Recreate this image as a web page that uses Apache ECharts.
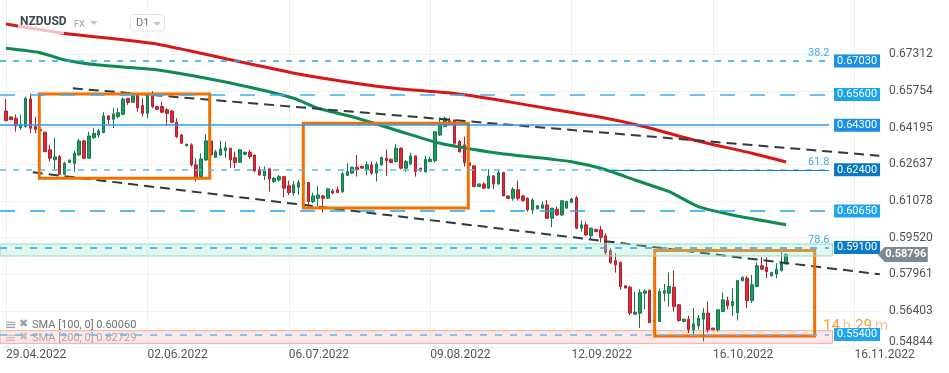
<!DOCTYPE html>
<html><head><meta charset="utf-8">
<script src="https://cdn.jsdelivr.net/npm/echarts@6/dist/echarts.min.js"></script>
<style>html,body{margin:0;padding:0;background:#fff}#c{width:949px;height:373px}</style>
</head><body><div id="c"></div><script>
// ---- candle data (daily bars, index 0 = 29.04.2022) ----
const opens = [.6490,.6465,.6459,.6419,.6424,.6541,.6424,.6412,.6400,.6325,.6283,.6296,.6221,.6271,.6268,.6303,.6363,.6289,.6377,.6388,
.6398,.6469,.6455,.6466,.6476,.6544,.6527,.6558,.6513,.6480,.6565,.6509,.6509,.6495,.6490,.6442,.6388,.6342,.6346,.6261,
.6211,.6282,.6363,.6293,.6303,.6322,.6332,.6292,.6272,.6306,.6315,.6303,.6240,.6215,.6244,.6190,.6197,.6211,.6172,.6141,
.6166,.6180,.6186,.6105,.6119,.6129,.6119,.6150,.6155,.6147,.6217,.6226,.6251,.6255,.6240,.6261,.6226,.6261,.6289,.6285,
.6275,.6332,.6247,.6265,.6299,.6247,.6232,.6275,.6279,.6388,.6424,.6448,.6452,.6360,.6346,.6271,.6257,.6169,.6180,.6162,
.6214,.6180,.6228,.6129,.6119,.6155,.6129,.6119,.6070,.6074,.6077,.6091,.6034,.6072,.6048,.6077,.6101,.6121,.5992,.6006,
.5959,.5987,.5985,.5959,.5897,.5854,.5846,.5747,.5741,.5626,.5630,.5715,.5727,.5602,.5595,.5715,.5715,.5741,.5666,.5595,
.5605,.5560,.5577,.5605,.5631,.5567,.5560,.5637,.5684,.5662,.5633,.5769,.5779,.5684,.5744,.5832,.5826,.5789,.5797,.5812,.5840];
const closes = [.6449,.6453,.6427,.6434,.6544,.6417,.6412,.6405,.6317,.6289,.6295,.6221,.6268,.6281,.6311,.6363,.6289,.6384,.6395,.6405,
.6469,.6453,.6478,.6483,.6541,.6526,.6558,.6504,.6480,.6558,.6509,.6497,.6485,.6480,.6442,.6381,.6353,.6349,.6261,.6211,
.6286,.6363,.6303,.6317,.6329,.6334,.6282,.6271,.6325,.6315,.6296,.6235,.6218,.6235,.6201,.6204,.6211,.6162,.6143,.6176,
.6186,.6190,.6105,.6129,.6133,.6119,.6159,.6141,.6143,.6223,.6232,.6251,.6240,.6247,.6261,.6226,.6264,.6292,.6279,.6271,
.6332,.6247,.6275,.6299,.6232,.6235,.6285,.6285,.6402,.6431,.6459,.6439,.6353,.6317,.6271,.6257,.6169,.6180,.6162,.6214,
.6180,.6228,.6129,.6118,.6157,.6119,.6109,.6070,.6112,.6087,.6091,.6034,.6077,.6048,.6108,.6105,.6116,.5992,.6006,.5963,
.5992,.5977,.5953,.5888,.5846,.5836,.5744,.5737,.5631,.5635,.5718,.5725,.5590,.5590,.5722,.5726,.5744,.5659,.5599,.5605,
.5560,.5585,.5609,.5631,.5560,.5560,.5645,.5687,.5662,.5680,.5769,.5783,.5684,.5751,.5832,.5817,.5807,.5803,.5817,.5843,.58796];
const lows = [.6448,.6452,.6402,.6410,.6419,.6396,.6396,.6388,.6316,.6275,.6240,.6218,.6218,.6269,.6232,.6300,.6289,.6289,.6371,.6377,
.6396,.6434,.6417,.6459,.6473,.6516,.6527,.6487,.6466,.6459,.6502,.6495,.6480,.6428,.6439,.6374,.6350,.6339,.6254,.6190,
.6211,.6278,.6299,.6292,.6300,.6289,.6247,.6247,.6269,.6303,.6286,.6232,.6215,.6197,.6147,.6184,.6190,.6123,.6133,.6129,
.6133,.6172,.6091,.6098,.6084,.6058,.6116,.6136,.6141,.6141,.6214,.6223,.6211,.6245,.6217,.6218,.6190,.6257,.6214,.6269,
.6271,.6242,.6232,.6261,.6211,.6234,.6228,.6271,.6271,.6384,.6424,.6431,.6346,.6313,.6254,.6248,.6166,.6169,.6158,.6158,
.6158,.6176,.6129,.6118,.6109,.6109,.6105,.6062,.6053,.6074,.6074,.6031,.5996,.6044,.6044,.6077,.6099,.5987,.5977,.5959,
.5945,.5977,.5931,.5878,.5840,.5803,.5730,.5737,.5623,.5626,.5567,.5647,.5590,.5587,.5594,.5680,.5659,.5637,.5595,.5591,
.5546,.5538,.5560,.5510,.5548,.5560,.5552,.5637,.5647,.5619,.5599,.5765,.5652,.5673,.5741,.5817,.5779,.5786,.5779,.5807,.5836];
const highs = [.6541,.6467,.6476,.6473,.6551,.6565,.6465,.6422,.6402,.6346,.6377,.6303,.6274,.6284,.6320,.6371,.6367,.6402,.6417,.6414,
.6485,.6473,.6504,.6502,.6547,.6544,.6565,.6565,.6544,.6558,.6575,.6511,.6530,.6502,.6495,.6459,.6393,.6350,.6353,.6289,
.6310,.6391,.6371,.6325,.6363,.6360,.6332,.6317,.6329,.6316,.6325,.6303,.6254,.6254,.6244,.6210,.6218,.6211,.6194,.6193,
.6197,.6197,.6186,.6143,.6172,.6133,.6163,.6159,.6169,.6232,.6268,.6254,.6303,.6257,.6275,.6275,.6275,.6296,.6327,.6286,
.6350,.6336,.6282,.6313,.6299,.6248,.6299,.6296,.6402,.6463,.6466,.6461,.6452,.6367,.6381,.6282,.6257,.6180,.6186,.6243,
.6218,.6237,.6232,.6129,.6166,.6194,.6133,.6123,.6119,.6091,.6105,.6112,.6077,.6084,.6112,.6108,.6121,.6129,.6024,.6020,
.5992,.5987,.6002,.5970,.5907,.5885,.5850,.5747,.5747,.5722,.5732,.5732,.5732,.5606,.5734,.5755,.5803,.5812,.5670,.5605,
.5619,.5652,.5623,.5652,.5680,.5567,.5645,.5718,.5701,.5737,.5769,.5786,.5789,.5793,.5846,.5868,.5868,.5807,.5843,.5892,.5885];

// ---- moving averages, sampled [bar index, value] ----
const sma100 = [[0,0.67567],[7,0.67380],[12,0.67070],[19,0.66857],[30,0.66674],[40,0.66334],[50,0.65909],[59,0.65441],
[64,0.65016],[71,0.64658],[81,0.64021],[89,0.63527],[101,0.63102],[112,0.62847],[116,0.62745],[122,0.62464],[129,0.61967],
[136,0.61469],[142,0.60831],[149,0.60478],[160,0.60060]];
const sma200 = [[0,0.68600],[11,0.68231],[30,0.67780],[40,0.67355],[47,0.67040],[60,0.66474],[71,0.66104],[81,0.65836],
[92,0.65645],[101,0.65369],[112,0.64973],[122,0.64633],[131,0.64233],[141,0.63668],[153,0.63102],[160,0.62729]];

// ---- axis ticks ----
const xTickIdx = [0,29,58,87,116,145,174];
const xTickLabels = ['29.04.2022','02.06.2022','06.07.2022','09.08.2022','12.09.2022','16.10.2022','16.11.2022'];
const yTicks = [0.54844,0.56403,0.57961,0.59520,0.61078,0.62637,0.64195,0.65754,0.67312];

// ---- drawing objects ----
const levelPrices = [0.67030,0.65600,0.64300,0.62400,0.60650,0.59100,0.55400];
const fibPrices = [0.67030,0.62400,0.59100];
const fibLabels = ['38.2','61.8','78.6'];
const trendUpper = [[13.7,0.65866],[179.1,0.63000]];
const trendLower = [[5.5,0.62294],[179.2,0.57957]];
const boxes = [[6.83,0.65624,41.78,0.62039],[60.97,0.64378,94.81,0.60776],[133.04,0.58969,165.85,0.55333]];
const zoneTeal = [0.59245,0.58735];
const zonePink = [0.55558,0.55022];
const lastPrice = 0.58796;
const sma100Label = 'SMA [100, 0] 0.60060';
const sma200Label = 'SMA [200, 0] 0.62729';

// ---- layout ----
const X_MIN = -1.2305, X_MAX = 179.45, LINE_END = 168.8, ZONE_END = 169.5, Y_MIN = 0.54844, Y_MAX = 0.69621;

const levelStyles = [
  {type:[6,7], color:'#22a6ee', width:1.5, bg:'#1a8fe6'},
  {type:[15,15], color:'#3db0ee', width:1.5, bg:'#1aa4ee'},
  {type:'solid', color:'#2c98ec', width:1.5, bg:'#1a8fe8'},
  {type:[6,7], color:'#5bbaf2', width:1.5, bg:'#0b78c2'},
  {type:[15,15], color:'#1aa8ee', width:1.5, bg:'#1ea5ee'},
  {type:[7,8], color:'#22a8ee', width:1.5, bg:'#0b7cc8'},
  {type:[7,8], color:'#62b6ec', width:1.5, bg:'#1ea5ee'}
];

const levelLines = levelPrices.map((p,k)=>[
  {coord:[X_MIN+0.01,p], lineStyle:{type:levelStyles[k].type,color:levelStyles[k].color,width:levelStyles[k].width,opacity:1},
   label:{show:true,position:'end',distance:5,formatter:p.toFixed(5),backgroundColor:levelStyles[k].bg,color:'#fff',
          fontSize:11,lineHeight:12,padding:[1,3,0,3],fontFamily:'Roboto'}},
  {coord:[LINE_END,p]}
]);
// solid ray segment on the 0.624 level
levelLines.push([
  {coord:[123.9,levelPrices[3]], lineStyle:{type:'solid',color:'#1a78c8',width:1}, label:{show:false}},
  {coord:[LINE_END,levelPrices[3]]}
]);
const fibLines = fibPrices.map((p,k)=>[
  {coord:[150,p], lineStyle:{color:'rgba(0,0,0,0)',width:1},
   label:{show:true,position:'insideEndTop',distance:2,formatter:fibLabels[k],color:'#3eaae8',fontSize:11,fontFamily:'Roboto',opacity:1}},
  {coord:[169.3,p]}
]);

const candleData = opens.map((o,i)=>[i,o,closes[i],lows[i],highs[i]]);

const chart = echarts.init(document.getElementById('c'), null, {renderer:'canvas'});
chart.setOption({
  animation:false,
  backgroundColor:'#fff',
  textStyle:{fontFamily:'Roboto'},
  grid:{left:0,right:68,top:0,bottom:25.5,containLabel:false},
  xAxis:{
    type:'value', min:X_MIN, max:X_MAX,
    axisLine:{show:false},
    axisTick:{show:false, customValues:xTickIdx},
    axisLabel:{customValues:xTickIdx, align:'left', margin:1, color:'#50565c', fontSize:12,
      formatter:(v)=>{const k=xTickIdx.indexOf(Math.round(v)); return k>=0?xTickLabels[k]:'';}},
    splitLine:{show:true, lineStyle:{color:'#eef0f2',width:1}}
  },
  yAxis:{
    type:'value', position:'right', min:Y_MIN, max:Y_MAX, scale:true,
    axisLine:{show:false},
    axisTick:{show:false, customValues:yTicks},
    axisLabel:{customValues:yTicks, margin:8, color:'#4d5359', fontSize:12, align:'left',
      formatter:(v)=> Math.abs(v-yTicks[0])<1e-7 ? '{lo|'+v.toFixed(5)+'}' : v.toFixed(5),
      rich:{lo:{padding:[0,0,12,0],fontSize:12,color:'#4d5359'}}},
    splitLine:{show:true, lineStyle:{color:'#eef0f2',width:1}}
  },
  series:[
    { type:'line', data:[], silent:true,
      markArea:{silent:true, z:1, itemStyle:{color:'rgba(252,208,208,0.5)',borderColor:'#f5a8a8',borderWidth:1},
        data:[[{coord:[X_MIN+0.01,zonePink[0]]},{coord:[ZONE_END,zonePink[1]]}]]}},
    { type:'candlestick', data:candleData, barWidth:3, z:2, silent:true,
      itemStyle:{color:'#1f9a63',color0:'#dc2b3b',borderColor:'#127a48',borderColor0:'#b41f2c',borderWidth:1}},
    { type:'line', data:sma200, symbol:'none', smooth:0.2, z:3, silent:true,
      lineStyle:{color:'#d61818',width:3}},
    { type:'line', data:sma100, symbol:'none', smooth:0.2, z:3, silent:true,
      lineStyle:{color:'#0e8a52',width:3}},
    { type:'line', data:trendUpper, symbol:'none', z:3, silent:true,
      lineStyle:{color:'#2e3940',width:2,type:[10,6]}},
    { type:'line', data:trendLower, symbol:'none', z:3, silent:true,
      lineStyle:{color:'#2e3940',width:2,type:[10,6]}},
    { type:'line', data:[], silent:true,
      markArea:{silent:true, z:3.5, itemStyle:{color:'rgba(0,0,0,0)',borderColor:'#f07000',borderWidth:3},
        data:boxes.map(b=>[{coord:[b[0],b[1]]},{coord:[b[2],b[3]]}])}},
    { type:'line', data:[], silent:true,
      markArea:{silent:true, z:4, itemStyle:{color:'rgba(160,230,205,0.3)',borderColor:'#95dac4',borderWidth:1},
        data:[[{coord:[X_MIN+0.01,zoneTeal[0]]},{coord:[ZONE_END,zoneTeal[1]]}]]}},
    { type:'line', data:[], silent:true,
      markLine:{silent:true, z:5, symbol:['none','none'], data:levelLines}},
    { type:'line', data:[], silent:true,
      markLine:{silent:true, z:5, symbol:['none','none'], data:fibLines},
      markPoint:{silent:true, z:6, data:[{coord:[X_MAX-0.05,lastPrice], symbol:'path://M0,7.5L7,0L50,0L50,15L7,15Z',
        symbolSize:[50,15], symbolOffset:[22,0], itemStyle:{color:'#7f888e'},
        label:{show:true,position:'inside',formatter:lastPrice.toFixed(5),color:'#fff',fontWeight:'bold',fontSize:11,offset:[3,0]}}]}}
  ],
  graphic:[
    {type:'rect', z:10, shape:{x:18,y:12,width:46,height:22}, style:{fill:'rgba(255,255,255,0.72)'}},
    {type:'text', z:11, x:20, y:16, style:{text:'NZDUSD', font:'bold 12px Roboto', fill:'#3d4651'}},
    {type:'text', z:11, x:74, y:20, style:{text:'FX', font:'bold 9px Roboto', fill:'#b4b9bd'}},
    {type:'polygon', z:11, shape:{points:[[90,21],[97.5,21],[93.75,25]]}, style:{fill:'#c4c8cb'}},
    {type:'rect', z:11, shape:{x:130.5,y:14.5,width:34,height:16.5,r:3}, style:{fill:'#fff',stroke:'#e2e5e7',lineWidth:1}},
    {type:'text', z:12, x:136, y:18, style:{text:'D1', font:'11px Roboto', fill:'#6e757b'}},
    {type:'polygon', z:12, shape:{points:[[153,22],[161,22],[157,26]]}, style:{fill:'#c4c8cb'}},
    {type:'text', z:0.5, x:5, y:318, style:{text:'≡', font:'14px "DejaVu Sans"', fill:'#9aa0a5'}},
    {type:'text', z:0.5, x:19, y:319, style:{text:'✖', font:'11px "DejaVu Sans"', fill:'#9aa0a5'}},
    {type:'text', z:0.5, x:32, y:320, style:{text:sma100Label, font:'11px Roboto', fill:'#6b7177'}},
    {type:'text', z:0.5, x:5, y:331, style:{text:'≡', font:'14px "DejaVu Sans"', fill:'#9aa0a5'}},
    {type:'text', z:0.5, x:19, y:332, style:{text:'✖', font:'11px "DejaVu Sans"', fill:'#9aa0a5'}},
    {type:'text', z:0.5, x:32, y:333, style:{text:sma200Label, font:'11px Roboto', fill:'#6b7177'}},
    {type:'text', z:4.5, x:823, y:319, style:{text:'{d|14}{u|h}{d|29}{u|m}', font:'15px Roboto',
      rich:{d:{fill:'#f5a03a',font:'15px Roboto'},u:{fill:'#f7c49a',font:'15px Roboto',padding:[0,4,0,3]}}}}
  ]
});
</script></body></html>
